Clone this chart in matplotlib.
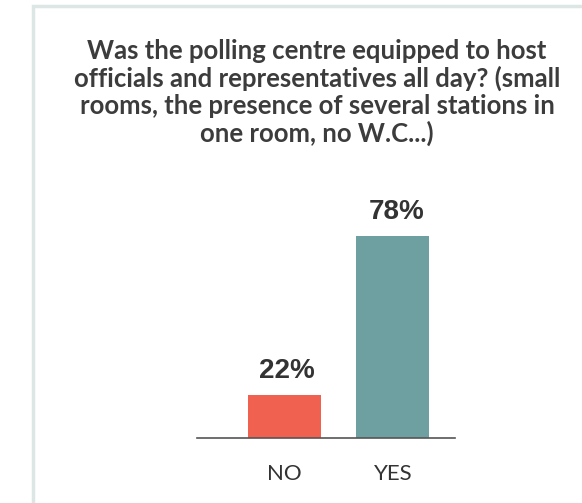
import matplotlib
matplotlib.use("Agg")
import matplotlib.pyplot as plt
from matplotlib.patches import Rectangle

# data
categories = ["NO", "YES"]
values = [22, 78]
labels = ["22%", "78%"]
colors = ["#F06150", "#6E9FA1"]
title = ("Was the polling centre equipped to host\n"
         "officials and representatives all day? (small\n"
         "rooms, the presence of several stations in\n"
         "one room, no W.C...)")

W, H = 582, 503
fig = plt.figure(figsize=(W / 100, H / 100), dpi=100)

# light frame around the card (runs off right and bottom)
fig.patches.append(Rectangle((33 / W, -0.1), 1.2, 1 - 6 / H + 0.1,
                             transform=fig.transFigure, fill=False,
                             edgecolor="#DCE6E5", linewidth=2.5))

fig.text(317 / W, 1 - 39 / H, title, ha="center", va="top",
         fontsize=18.5, fontweight="bold", color="#3C3C3C",
         family="Lato", linespacing=1.13)

px_per_unit = 2.84
ymin, ymax = 7, 90
ax_h = (ymax - ymin) * px_per_unit
ax = fig.add_axes([197 / W, (H - 438) / H, 258 / W, ax_h / H])
x = list(range(len(categories)))
ax.bar(x, values, width=0.67, color=colors, zorder=2)
ax.set_xlim(-0.80, 1.57)
ax.set_ylim(ymin, ymax)

for xi, v, lab in zip(x, values, labels):
    ax.text(xi + 0.03, v + 4.0, lab, ha="center", va="bottom", fontsize=20,
            fontweight="bold", color="#333333", family="Liberation Sans")

for s in ["top", "right", "left"]:
    ax.spines[s].set_visible(False)
ax.spines["bottom"].set_color("#555555")
ax.spines["bottom"].set_linewidth(1.2)
ax.spines["bottom"].set_zorder(3)
ax.set_yticks([])
ax.set_xticks(x)
ax.set_xticklabels(categories, fontsize=16, color="#333333", family="Lato")
ax.tick_params(axis="x", length=0, pad=19)

fig.savefig("out.png", dpi=100)
